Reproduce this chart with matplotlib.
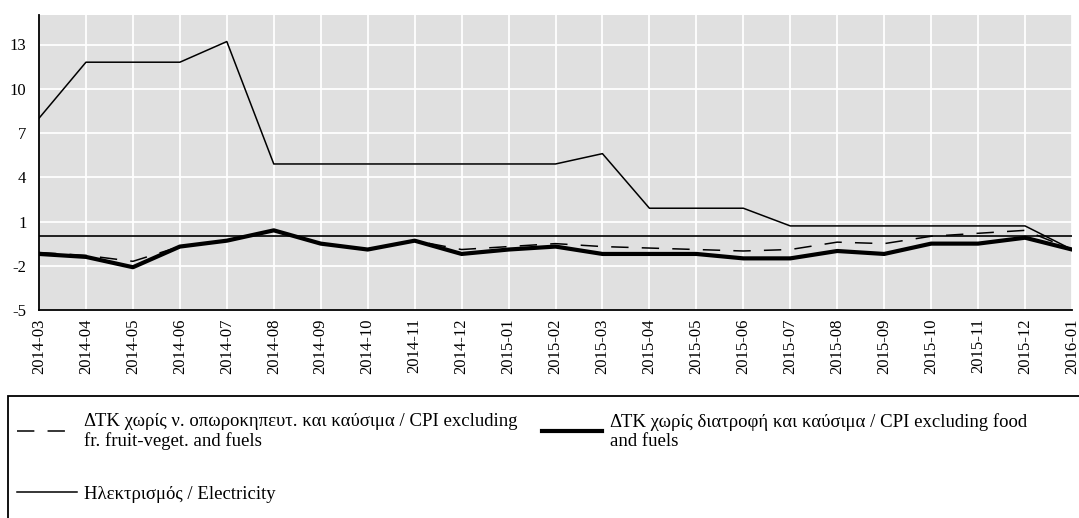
import matplotlib
matplotlib.use("Agg")
import matplotlib.pyplot as plt
from matplotlib.patches import Rectangle

plt.rcParams['font.family'] = ['Liberation Serif', 'DejaVu Serif']
plt.rcParams['lines.scale_dashes'] = False
plt.rcParams['axes.unicode_minus'] = False

months = ['2014-03', '2014-04', '2014-05', '2014-06', '2014-07', '2014-08',
          '2014-09', '2014-10', '2014-11', '2014-12', '2015-01', '2015-02',
          '2015-03', '2015-04', '2015-05', '2015-06', '2015-07', '2015-08',
          '2015-09', '2015-10', '2015-11', '2015-12', '2016-01']

# CPI excluding fresh fruit-vegetables and fuels
cpi_ex_fv_fuels = [-1.1, -1.3, -1.7, -0.7, -0.3, 0.4, -0.5, -0.9, -0.3, -0.9,
                   -0.7, -0.5, -0.7, -0.8, -0.9, -1.0, -0.9, -0.4, -0.5, 0.0,
                   0.2, 0.4, -0.9]
# CPI excluding food and fuels
cpi_ex_food_fuels = [-1.2, -1.4, -2.1, -0.7, -0.3, 0.4, -0.5, -0.9, -0.3, -1.2,
                     -0.9, -0.7, -1.2, -1.2, -1.2, -1.5, -1.5, -1.0, -1.2, -0.5,
                     -0.5, -0.1, -0.9]
# Electricity
electricity = [8.0, 11.8, 11.8, 11.8, 13.2, 4.9, 4.9, 4.9, 4.9, 4.9, 4.9, 4.9,
               5.6, 1.9, 1.9, 1.9, 0.7, 0.7, 0.7, 0.7, 0.7, 0.7, -0.9]

labels = ["ΔΤΚ χωρίς ν. οπωροκηπευτ. και καύσιμα / CPI excluding\nfr. fruit-veget. and fuels",
          "ΔΤΚ χωρίς διατροφή και καύσιμα / CPI excluding food\nand fuels",
          "Ηλεκτρισμός / Electricity"]

yticks = [-5, -2, 1, 4, 7, 10, 13]

W, H = 1079, 518
fig = plt.figure(figsize=(W / 100, H / 100), dpi=100)
ax = fig.add_axes([39 / W, 1 - 310 / H, (1072 - 39) / W, (310 - 15) / H])
ax.set_facecolor('#e0e0e0')

x = list(range(len(months)))
ax.axhline(0, color='black', lw=1.2, zorder=2)
l1, = ax.plot(x, cpi_ex_fv_fuels, color='black', lw=1.1, dashes=(12.5, 9.5), zorder=3)
l2, = ax.plot(x, cpi_ex_food_fuels, color='black', lw=3.0, zorder=4)
l3, = ax.plot(x, electricity, color='black', lw=1.1, zorder=3)

ax.set_xlim(0, len(months) - 1)
ax.set_ylim(-5, 15)
ax.set_yticks(yticks)
ax.set_xticks(x)
ax.set_xticklabels(months, rotation=90)
ax.tick_params(length=0, labelsize=12)
ax.tick_params(axis='y', pad=9)
ax.tick_params(axis='x', pad=6)
ax.grid(True, color='white', lw=1.3)
ax.set_axisbelow(True)
for s in ['top', 'right']:
    ax.spines[s].set_visible(False)
for s in ['left', 'bottom']:
    ax.spines[s].set_color('black')
    ax.spines[s].set_linewidth(1.3)

# legend box that runs off the figure
fig.patches.append(Rectangle((8 / W, -0.2), 1.5, (1 - 396 / H) + 0.2,
                             transform=fig.transFigure, fill=False,
                             edgecolor='black', lw=1.3))
leg = fig.legend([l1, l3, l2], [labels[0], labels[2], labels[1]], ncol=2,
                 loc='upper left', bbox_to_anchor=(17 / W, 1 - 413 / H),
                 frameon=False, fontsize=13.5, borderpad=0, borderaxespad=0,
                 handlelength=3.2, handletextpad=0.4, columnspacing=1.3,
                 labelspacing=1.9)
for t in leg.get_texts():
    t.set_linespacing(1.15)

fig.savefig("out.png", dpi=100)
